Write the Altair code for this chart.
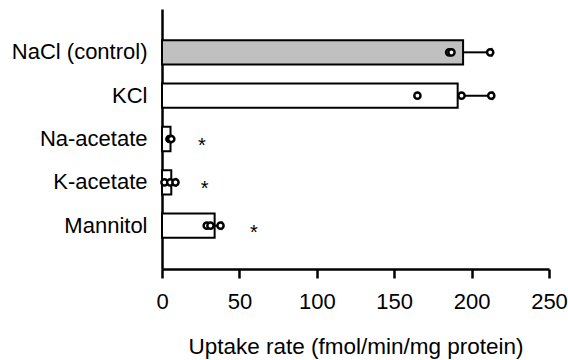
import altair as alt
import pandas as pd

conditions = ["NaCl (control)", "KCl", "Na-acetate", "K-acetate", "Mannitol"]
means = [194.5, 191.0, 5.5, 6.0, 34.0]
errors = [18.5, 22.5, 0.5, 3.0, 4.5]
points = {
    "NaCl (control)": [185.5, 187.0, 212.0],
    "KCl": [165.0, 193.5, 212.7],
    "Na-acetate": [4.8, 5.3, 6.0],
    "K-acetate": [1.6, 5.3, 8.7],
    "Mannitol": [28.9, 31.3, 37.8],
}
star_conditions = ["Na-acetate", "K-acetate", "Mannitol"]
star_x = [25.8, 27.5, 59.3]
x_ticks = [0, 50, 100, 150, 200, 250]

FONT = "Liberation Sans"

bar_df = pd.DataFrame({
    "cond": conditions,
    "mean": means,
    "hi": [m + e for m, e in zip(means, errors)],
})
pt_df = pd.DataFrame(
    [{"cond": c, "v": v} for c in conditions for v in points[c]]
)
star_df = pd.DataFrame({"cond": star_conditions, "x": star_x, "t": ["*"] * 3})

yenc = alt.Y(
    "cond:N",
    sort=conditions,
    scale=alt.Scale(paddingInner=0.44, paddingOuter=0.72),
    axis=alt.Axis(
        title=None, ticks=False, labelFontSize=22, labelFont=FONT,
        labelColor="black", labelPadding=15, domainColor="black",
        domainWidth=2.5, labelLimit=300,
    ),
)
xscale = alt.Scale(domain=[0, 250], nice=False)
xaxis = alt.Axis(
    values=x_ticks, title="Uptake rate (fmol/min/mg protein)", grid=False,
    tickSize=9, tickWidth=2.5, tickColor="black", domainColor="black",
    domainWidth=2.5, labelFontSize=22, labelFont=FONT, labelColor="black",
    labelPadding=13, titleFontSize=22.5, titleFont=FONT, titleFontWeight="normal",
    titleColor="black", titlePadding=23, labelFlush=False,
)

bars = alt.Chart(bar_df).mark_bar(stroke="black", strokeWidth=2).encode(
    x=alt.X("mean:Q", scale=xscale, axis=xaxis),
    y=yenc,
    fill=alt.condition(
        alt.datum.cond == "NaCl (control)", alt.value("#c0c0c0"), alt.value("white")
    ),
)

err = alt.Chart(bar_df).mark_rule(color="black", strokeWidth=2).encode(
    x=alt.X("mean:Q", scale=xscale),
    x2="hi:Q",
    y=alt.Y("cond:N", sort=conditions),
)

caps = alt.Chart(bar_df).mark_tick(
    color="black", orient="vertical", size=9, thickness=2
).encode(
    x=alt.X("hi:Q", scale=xscale),
    y=alt.Y("cond:N", sort=conditions),
)

pts = alt.Chart(pt_df).mark_point(
    shape="circle", filled=True, fill="white", stroke="black",
    strokeWidth=2.5, size=38, opacity=1,
).encode(
    x=alt.X("v:Q", scale=xscale),
    y=alt.Y("cond:N", sort=conditions),
)

stars = alt.Chart(star_df).mark_text(
    font=FONT, fontSize=20, color="black", baseline="middle", dy=7
).encode(
    x=alt.X("x:Q", scale=xscale),
    y=alt.Y("cond:N", sort=conditions),
    text="t:N",
)

chart = alt.layer(bars, err, caps, pts, stars).properties(
    width=387, height=260,
    background="white",
    autosize=alt.AutoSizeParams(type="none"),
    padding={"left": 162, "top": 9, "right": 19, "bottom": 91},
).configure_view(strokeWidth=0)

chart.save("out.html", embed_options={"renderer": "svg", "actions": False})
